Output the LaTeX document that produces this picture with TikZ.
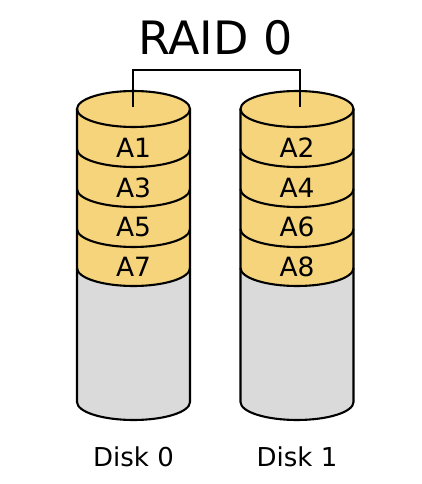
\documentclass[tikz,border=0pt]{standalone}
\usepackage{fontspec}
\setmainfont{DejaVu Sans}
\definecolor{bandyellow}{HTML}{F5D47C}
\definecolor{diskgray}{HTML}{DADADA}
\begin{document}
\begin{tikzpicture}[x=1pt,y=1pt,
  outline/.style={draw=black,line width=2.1pt},
  conn/.style={draw=black,line width=1.8pt},
  blocklabel/.style={font=\fontsize{26.5}{26.5}\selectfont,inner sep=0pt},
  disklabel/.style={font=\fontsize{26}{26}\selectfont,inner sep=0pt},
  titlelabel/.style={font=\fontsize{46}{46}\selectfont,inner sep=0pt}]
\useasboundingbox (0,0) rectangle (421,-484);
\def\rx{56.5}
\def\ry{18}
% disks
\foreach \cx/\dn/\la/\lb/\lc/\ld in {133.5/0/A1/A3/A5/A7, 297/1/A2/A4/A6/A8}{
  % yellow part
  \fill[bandyellow] (\cx-\rx,-268) arc[start angle=180,end angle=360,x radius=\rx,y radius=\ry]
     -- (\cx+\rx,-109) arc[start angle=0,end angle=180,x radius=\rx,y radius=\ry] -- cycle;
  % gray part
  \fill[diskgray] (\cx-\rx,-268) arc[start angle=180,end angle=360,x radius=\rx,y radius=\ry]
     -- (\cx+\rx,-402) arc[start angle=0,end angle=-180,x radius=\rx,y radius=\ry] -- cycle;
  % outline
  \draw[outline] (\cx-\rx,-109) -- (\cx-\rx,-402)
     arc[start angle=180,end angle=360,x radius=\rx,y radius=\ry] -- (\cx+\rx,-109);
  \draw[outline] (\cx,-109) ellipse[x radius=\rx,y radius=\ry];
  \foreach \yy in {149,189,229,268}{
    \draw[outline] (\cx-\rx,-\yy) arc[start angle=180,end angle=360,x radius=\rx,y radius=\ry];
  }
  \node[blocklabel] (b\dn a) at (\cx,-148) {\la};
  \node[blocklabel] (b\dn b) at (\cx,-187.5) {\lb};
  \node[blocklabel] (b\dn c) at (\cx,-227) {\lc};
  \node[blocklabel] (b\dn d) at (\cx,-267) {\ld};
  \node[disklabel] (disk\dn) at (\cx,-457) {Disk \dn};
}
\node[titlelabel] (title) at (215.5,-38) {RAID 0};
\coordinate (t0) at (133,-107);
\coordinate (t1) at (300,-107);
\coordinate (bus) at (215,-70);
\draw[conn] (t0) -- (t0 |- bus) -- (t1 |- bus) -- (t1);
\end{tikzpicture}
\end{document}
